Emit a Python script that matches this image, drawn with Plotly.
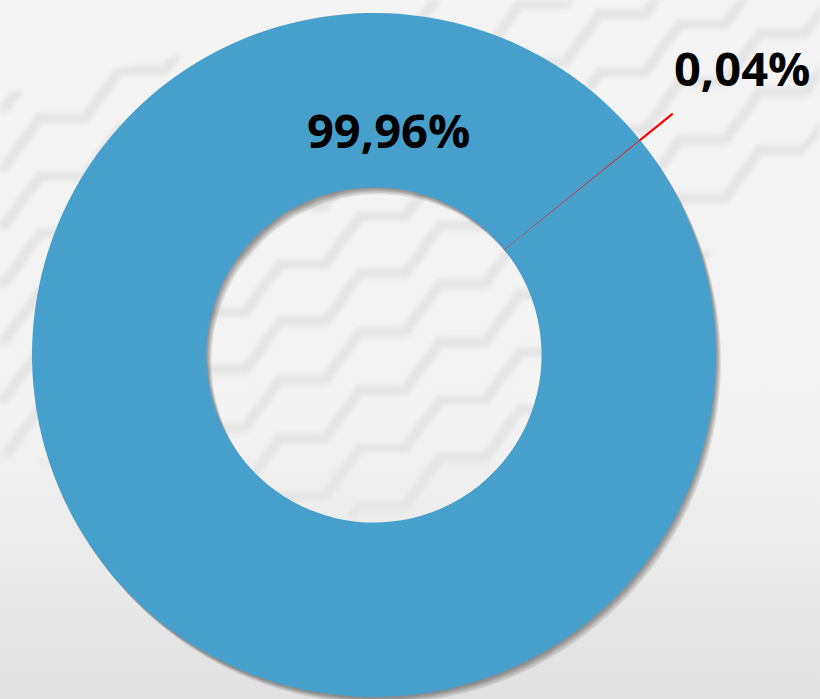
import math
import base64
import plotly.graph_objects as go

# Share of each category, in percent
categories = ["Outros", "Principal"]
values = [0.04, 99.96]
colors = ["#ff0000", "#479fcc"]

W, H = 820, 699
CX, CY, R = 374, 355, 342          # ring centre and outer radius, px
HOLE = 0.49
START_DEG = 51                     # where the first slice begins, clockwise from 12 o'clock


def fmt_pct(v):
    return f"{v:.2f}".replace(".", ",") + "%"


def domain_for(cx, cy, r):
    return dict(x=[(cx - r) / W, (cx + r) / W],
                y=[1 - (cy + r) / H, 1 - (cy - r) / H])


def to_paper(px, py):
    return px / W, 1 - py / H


def circle_path(cx, cy, r, n=240):
    pts = []
    for i in range(n):
        a = 2 * math.pi * i / n
        x, y = to_paper(cx + r * math.cos(a), cy + r * math.sin(a))
        pts.append(f"{x:.5f},{y:.5f}")
    return "M" + " L".join(pts) + " Z"


# ---- background: soft vertical gradient with a faint zig-zag watermark ----
def zigzag_lines():
    lines = []
    for j in range(-8, 16):
        x, y = -120.0, 40.0 + j * 58.0
        pts = [(x, y)]
        while x < 900:
            x += 45
            pts.append((x, y))
            x += 35
            y -= 48
            pts.append((x, y))
        lines.append(" ".join(f"{a:.0f},{b:.0f}" for a, b in pts))
    return lines


band_poly = "0,95 430,0 820,0 820,135 640,330 560,500 420,530 250,500 0,455"
polys = "".join(f'<polyline points="{p}"/>' for p in zigzag_lines())
svg = f'''<svg xmlns="http://www.w3.org/2000/svg" width="{W}" height="{H}" viewBox="0 0 {W} {H}">
<defs>
<linearGradient id="bg" x1="0" y1="0" x2="0" y2="1">
<stop offset="0" stop-color="#f4f4f4"/><stop offset="0.6" stop-color="#f3f3f3"/>
<stop offset="1" stop-color="#e1e1e1"/></linearGradient>
<clipPath id="band"><polygon points="{band_poly}"/></clipPath>
<filter id="soft" x="-10%" y="-10%" width="120%" height="120%"><feGaussianBlur stdDeviation="2"/></filter>
</defs>
<rect width="{W}" height="{H}" fill="url(#bg)"/>
<g filter="url(#soft)"><g clip-path="url(#band)" stroke="#e5e5e5" stroke-width="10" fill="none">{polys}</g></g>
</svg>'''
bg_uri = "data:image/svg+xml;base64," + base64.b64encode(svg.encode()).decode()

fig = go.Figure()

# ---- drop shadow: translucent rings stepped down-right to fake a soft blur ----
inner_r = R * HOLE
for dx, dy in [(1, 1.5), (2, 3), (3, 4), (4, 5.5), (5, 7)]:
    fig.add_shape(type="path", xref="paper", yref="paper", layer="below",
                  path=circle_path(CX + dx, CY + dy, R) + " " + circle_path(CX + dx, CY + dy, inner_r),
                  fillrule="evenodd", fillcolor="rgba(0,0,0,0.09)", line=dict(width=0))

# ---- the ring itself ----
fig.add_trace(go.Pie(
    labels=categories, values=values, hole=HOLE, sort=False,
    direction="clockwise", rotation=START_DEG,
    domain=domain_for(CX, CY, R),
    marker=dict(colors=colors, line=dict(color=colors, width=[0.5, 0])),
    textinfo="none", showlegend=False,
))

# ---- leader line for the small slice, along its mid angle ----
total = sum(values)
mid = math.radians(START_DEG + 0.5 * values[0] / total * 360)
x0, y0 = to_paper(CX + R * math.sin(mid), CY - R * math.cos(mid))
x1, y1 = to_paper(CX + R * 1.123 * math.sin(mid), CY - R * 1.123 * math.cos(mid))
fig.add_shape(type="line", xref="paper", yref="paper", x0=x0, y0=y0, x1=x1, y1=y1,
              line=dict(color="#ff0000", width=2.2))

label_font = dict(family="Open Sans", size=47, color="#000000", weight="bold")
lx, ly = to_paper(388, 130)
fig.add_annotation(x=lx, y=ly, xref="paper", yref="paper", text=fmt_pct(values[1]),
                   showarrow=False, font=label_font, xanchor="center", yanchor="middle")
sx, sy = to_paper(742, 68)
fig.add_annotation(x=sx, y=sy, xref="paper", yref="paper", text=fmt_pct(values[0]),
                   showarrow=False, font=label_font, xanchor="center", yanchor="middle")

fig.add_layout_image(source=bg_uri, xref="paper", yref="paper", x=0, y=1,
                     sizex=1, sizey=1, sizing="stretch", xanchor="left", yanchor="top",
                     layer="below")

fig.update_layout(
    width=W, height=H, margin=dict(l=0, r=0, t=0, b=0),
    paper_bgcolor="#f4f4f4", plot_bgcolor="#f4f4f4",
    showlegend=False,
)

fig.write_html("out.html")
